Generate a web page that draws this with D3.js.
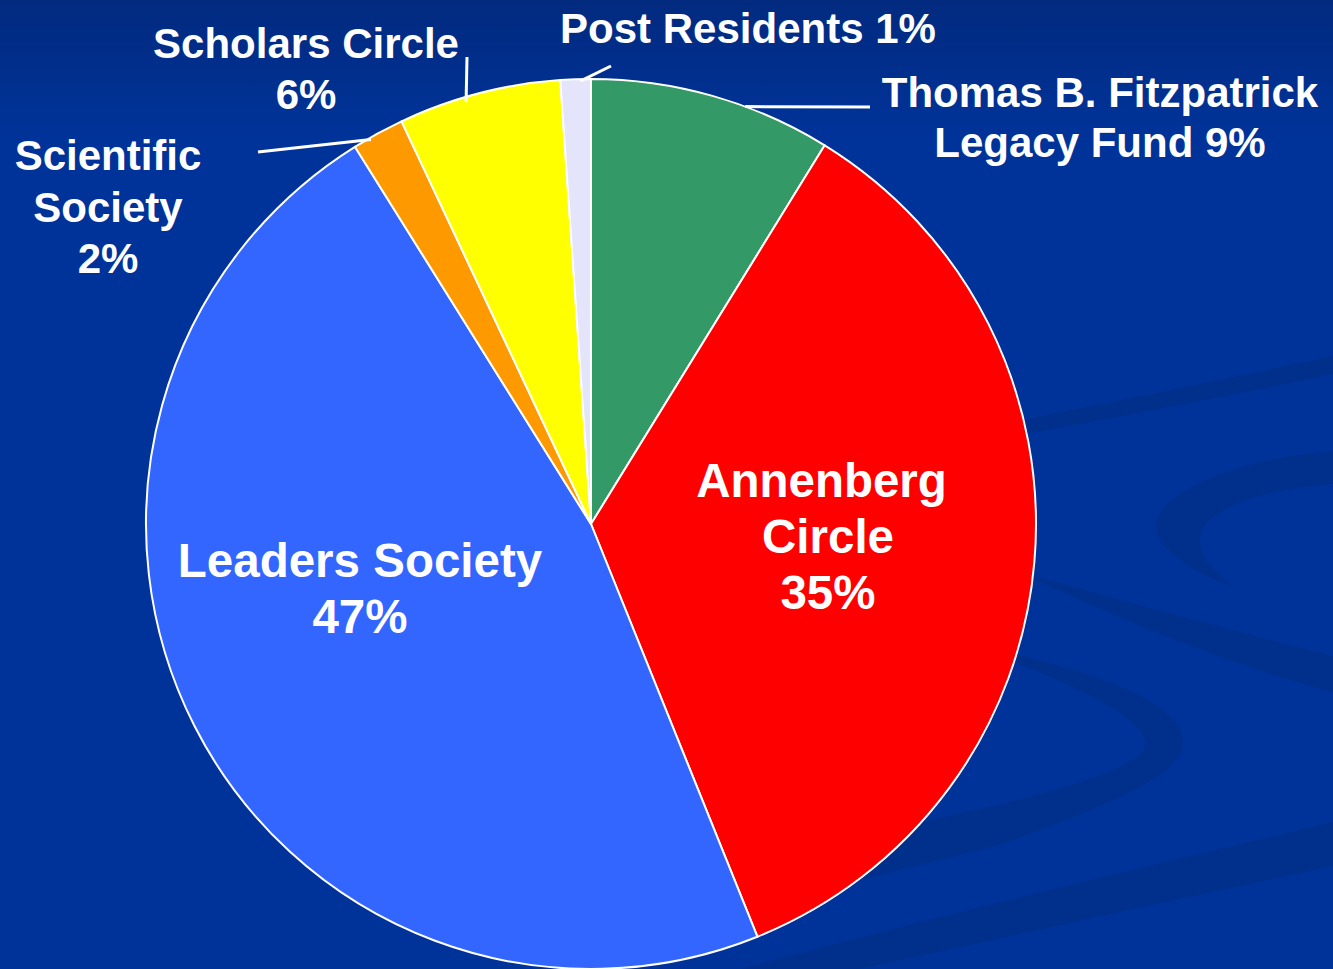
<!DOCTYPE html>
<html>
<head>
<meta charset="utf-8">
<script src="https://cdn.jsdelivr.net/npm/d3@7"></script>
<style>
  html, body { margin: 0; padding: 0; background: #003399; }
  svg { display: block; }
  text { font-family: "Liberation Sans", Arial, sans-serif; font-weight: bold; fill: #fff; }
</style>
</head>
<body>
<svg id="chart" width="1333" height="969"></svg>
<script>
// slice data, clockwise from 12 o'clock
const categories = ["Thomas B. Fitzpatrick Legacy Fund", "Annenberg Circle", "Leaders Society",
                    "Scientific Society", "Scholars Circle", "Post Residents"];
const shares = [8.8, 35.1, 47.2, 1.9, 5.9, 1.1];
const percentLabels = ["9%", "35%", "47%", "2%", "6%", "1%"];
const sliceColors = ["#339966", "#ff0000", "#3366ff", "#ff9900", "#ffff00", "#e4e4fa"];
const labelLines = [
  ["Thomas B. Fitzpatrick", "Legacy Fund 9%"],
  ["Annenberg", "Circle", "35%"],
  ["Leaders Society", "47%"],
  ["Scientific", "Society", "2%"],
  ["Scholars Circle", "6%"],
  ["Post Residents 1%"]
];

// layout for the labels (position of first baseline, line step, leader line)
const labelLayout = [
  {x: 1100, y: 107, step: 50, size: 42, leader: {frac: 0.64, inset: 0, end: [870, 107]}},
  {x: 828, y: 497, step: 56, size: 47.5, dx: [-6.5, 0, 0]},
  {x: 360, y: 577, step: 56, size: 47.5},
  {x: 108, y: 170, step: 51.5, size: 42, leader: {frac: 0.33, inset: 2, end: [258, 152]}},
  {x: 306, y: 58, step: 51, size: 42, leader: {frac: 0.41, inset: 5, end: [467, 57]}},
  {x: 748, y: 43, step: 50, size: 42, leader: {frac: 0.65, inset: 2, end: [611, 66]}}
];

const width = 1333, height = 969;
const cx = 591, cy = 524, radius = 445;

const svg = d3.select("#chart");

// background
const defs = svg.append("defs");
const grad = defs.append("linearGradient")
    .attr("id", "bg").attr("x1", 0).attr("y1", 0).attr("x2", 0).attr("y2", 1);
grad.append("stop").attr("offset", "0%").attr("stop-color", "#022a7f");
grad.append("stop").attr("offset", "14%").attr("stop-color", "#003399");
grad.append("stop").attr("offset", "100%").attr("stop-color", "#003399");
svg.append("rect").attr("width", width).attr("height", height).attr("fill", "url(#bg)");

// faint swirls on the background (they run behind the pie)
const swirls = [
  "M960,432 Q1150,395 1333,356 L1333,374 Q1150,412 960,446 Z",
  "M1333,451 C1250,458 1170,485 1156,520 C1150,545 1190,572 1236,588 C1210,570 1192,548 1203,528 C1222,500 1280,488 1333,484 Z",
  "M1020,572 C1120,600 1230,630 1333,656 L1333,692 C1230,665 1120,620 1020,572 Z",
  "M960,640 C1080,670 1160,690 1180,730 C1195,765 1150,790 1000,845 L860,880 L860,835 C1080,790 1150,765 1145,740 C1135,710 1060,680 960,640 Z",
  "M700,980 C900,925 1150,865 1333,822 L1333,866 C1150,905 950,950 760,990 Z"
];
svg.append("g").selectAll("path")
  .data(swirls)
  .enter().append("path")
    .attr("d", d => d)
    .attr("fill", "#00308c");

// pie
const pie = d3.pie().sort(null).value(d => d)(shares);
const arc = d3.arc().innerRadius(0).outerRadius(radius);

const g = svg.append("g").attr("transform", "translate(" + cx + "," + cy + ")");

g.selectAll("path.slice")
  .data(pie)
  .enter().append("path")
    .attr("class", "slice")
    .attr("d", arc)
    .attr("fill", (d, i) => sliceColors[i])
    .attr("stroke", "#fff")
    .attr("stroke-width", 2)
    .attr("stroke-linejoin", "round");

// leader lines
function edgePoint(d, frac, inset) {
  let a = d.startAngle + (d.endAngle - d.startAngle) * frac;
  let r = radius - inset;
  return [cx + r * Math.sin(a), cy - r * Math.cos(a)];
}

pie.forEach(function(d, i) {
  let lay = labelLayout[i];
  if (!lay.leader) return;
  let p = edgePoint(d, lay.leader.frac, lay.leader.inset);
  svg.append("line")
    .attr("x1", p[0]).attr("y1", p[1])
    .attr("x2", lay.leader.end[0]).attr("y2", lay.leader.end[1])
    .attr("stroke", "#fff")
    .attr("stroke-width", 3);
});

// labels
labelLines.forEach(function(lines, i) {
  let lay = labelLayout[i];
  let t = svg.append("text")
    .attr("text-anchor", "middle")
    .attr("font-size", lay.size);
  lines.forEach(function(line, j) {
    t.append("tspan")
      .attr("x", lay.x + (lay.dx ? lay.dx[j] : 0))
      .attr("y", lay.y + j * lay.step)
      .text(line);
  });
});
</script>
</body>
</html>
